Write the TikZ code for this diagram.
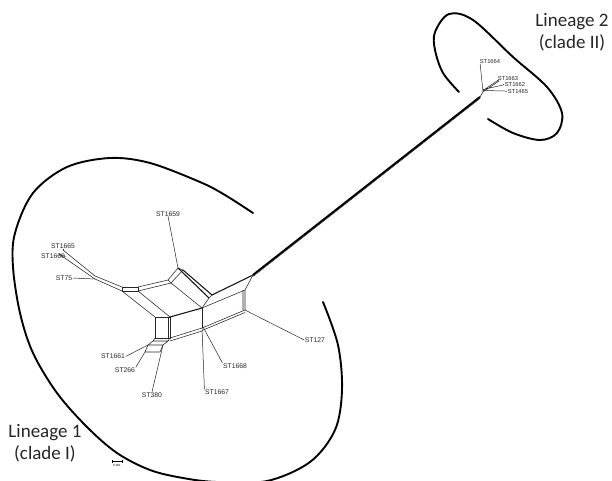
\documentclass[tikz,border=0pt]{standalone}
\usepackage{fontspec}
\setmainfont{Liberation Sans}
\newfontfamily\calib{Carlito}
\begin{document}
\begin{tikzpicture}[x=1pt,y=-1pt,
  hull/.style={line width=1.9pt,line cap=round},
  net/.style={line width=0.55pt,black!85},
  netb/.style={line width=1.1pt,black!90},
  leaf/.style={line width=0.5pt,black!85},
  stlab/.style={font=\fontsize{6.8}{7}\selectfont,inner sep=0.5pt,text=black!85},
  stlabs/.style={font=\fontsize{5.8}{6}\selectfont,inner sep=0.5pt,text=black!85},
  lintext/.style={font=\calib\fontsize{19}{22}\selectfont,align=center,text=black!85}]
\useasboundingbox (0,0) rectangle (612,480);
\fill[white] (0,0) rectangle (612,480);

% hulls
\draw[hull] plot[smooth,tension=0.55] coordinates {(253,213) (225,195) (200,182) (150,163) (110,158) (67,167) (33,193) (15,233) (13,267) (20,313) (33,353) (57,393) (87,427) (117,453) (150,470) (183,478) (217,482) (267,481) (310,462) (335,430) (342,390) (338,345) (323,302)};
\draw[hull] plot[smooth,tension=0.55] coordinates {(459,92) (443,73) (435,50) (435,32) (449,14) (473,20) (513,57) (547,87) (562,113) (557,133) (540,140) (513,133) (488,119)};

\node[lintext] (l2) at (572,32) {Lineage 2\\(clade II)};
\node[lintext] (l1) at (45,443) {Lineage 1\\(clade I)};

% network coordinates
\coordinate (t65) at (63,250);
\coordinate (t60) at (59,254);
\coordinate (a1) at (95,276);
\coordinate (a2) at (95,279);
\coordinate (b1) at (122,287);
\coordinate (b2) at (122,291);
\coordinate (b3) at (138,287);
\coordinate (b4) at (138,291);
\coordinate (c1) at (168,280);
\coordinate (c2) at (171,283);
\coordinate (d1) at (178,268);
\coordinate (d2) at (183,270);
\coordinate (e1) at (212,295);
\coordinate (e2) at (209,298);
\coordinate (f1) at (202,308);
\coordinate (g1) at (155,317);
\coordinate (g2) at (170,317);
\coordinate (g3) at (155,338);
\coordinate (g4) at (170,338);
\coordinate (h1) at (202,328);
\coordinate (tr) at (253,275);
\coordinate (k1) at (245,290);
\coordinate (k2) at (245,310);
\coordinate (m1) at (153,341);
\coordinate (m2) at (168,341);
\coordinate (m3) at (148,345);
\coordinate (m4) at (163,345);
\coordinate (m5) at (145,352);
\coordinate (m6) at (160,352);
\coordinate (te) at (480,97);
\coordinate (q1) at (483,92);
\coordinate (q2) at (499,81);
\coordinate (q3) at (503,85);
\coordinate (q4) at (505,91);

% left arm
\draw[net] (t65) -- (a1) (t60) -- (a2);
\draw[net] (a1) -- (b1) (a2) -- (b2);
\draw[net] (b1) -- (b3) -- (b4) -- (b2) -- cycle;
\draw[net] (b3) -- (c1) (b4) -- (c2);
\draw[net] (c1) -- (d1) (c2) -- (d2) (d1) -- (d2) (c1) -- (c2);
\draw[netb] (d1) -- (e2) (d2) -- (e1);
\draw[net] (c2) -- (f1);
\draw[net] (b2) -- (g1) (b4) -- (g2);
% central box
\draw[net] (g1) -- (g2) -- (g4) -- (g3) -- cycle;
\draw[net] ([xshift=-2]g2) -- ([xshift=-2]g4);
\draw[netb] (g2) -- (f1);
\draw[net] (f1) -- (h1);
\draw[net] (f1) -- (e2) (e2) -- (e1);
\draw[netb] (e1) -- (tr);
\draw[net] (tr) -- (k1) (k1) -- (k2) ([xshift=-2]k1) -- ([xshift=-2]k2);
\draw[net] (k1) -- (f1);
\draw[net] (k2) -- (h1) ([yshift=-2.5]k2) -- ([yshift=-2.5]h1);
\draw[net] (g4) -- (h1) ([yshift=-3]g4) -- ([yshift=-3]h1);
% lower boxes
\draw[net] (g3) -- (m1) (g4) -- (m2) (m1) -- (m2) -- (m4) -- (m3) -- cycle;
\draw[net] (m3) -- (m5) (m4) -- (m6) (m5) -- (m6);
% trunk
\draw[line width=2.1pt,black] (tr) -- (te);
\draw[line width=0.6pt,black!80] ([yshift=-1.4]tr) -- ([yshift=-1.4]te);
\draw[net] (te) -- (q1);

% leaf labels lineage 1
\node[stlab] (s1659) at (168,214) {ST1659};
\node[stlab] (s1665) at (63,246) {ST1665};
\node[stlab] (s1660) at (53,256.5) {ST1660};
\node[stlab] (s75) at (64,278) {ST75};
\node[stlab] (s127) at (315,340) {ST127};
\node[stlab] (s1661) at (113,356.5) {ST1661};
\node[stlab] (s266) at (125,370.5) {ST266};
\node[stlab] (s380) at (152,395) {ST380};
\node[stlab] (s1667) at (217,392.5) {ST1667};
\node[stlab] (s1668) at (235,366) {ST1668};

\draw[leaf] (s1659.south) ++(0,-1) -- (d1);
\draw[leaf] (s1665.south) -- (t65);
\draw[leaf] (s1660.east) -- (t60);
\draw[leaf] (s75.east) -- (a2);
\draw[leaf] (s127.west) -- (k2);
\draw[leaf] (s1661.east) -- (m3);
\draw[leaf] (s266.north east) -- (m5);
\draw[leaf] (s380.north) -- (m4);
\draw[leaf] (s1667.north west) -- (h1);
\draw[leaf] (s1668.north west) -- ([yshift=3]h1);

% lineage 2 labels
\node[stlabs] (s1664) at (490,61) {ST1664};
\node[stlabs] (s1663) at (508,78) {ST1663};
\node[stlabs] (s1662) at (515,84) {ST1662};
\node[stlabs] (s1465) at (518,91.5) {ST1465};
\draw[leaf] (s1664.south west) ++(1,0) -- (q1);
\draw[leaf] (q1) -- (q2) ([yshift=1.5]q1) -- ([yshift=1.5]q2) ([yshift=2.5]q1) -- (q3);
\draw[leaf] (q2) -- (s1663.south west) (q3) -- (s1662.west);
\draw[leaf] ([yshift=1.5]q1) -- (q4) -- (s1465.west);

% scale bar
\coordinate (sb1) at (112,461);
\coordinate (sb2) at (122,461);
\draw[line width=0.4pt] (sb1) -- (sb2) ([yshift=-1.5]sb1) -- ([yshift=1.5]sb1) ([yshift=-1.5]sb2) -- ([yshift=1.5]sb2);
\node[font=\fontsize{3}{3}\selectfont,inner sep=0pt] (sbl) at (117,465) {0.001};
\end{tikzpicture}
\end{document}
